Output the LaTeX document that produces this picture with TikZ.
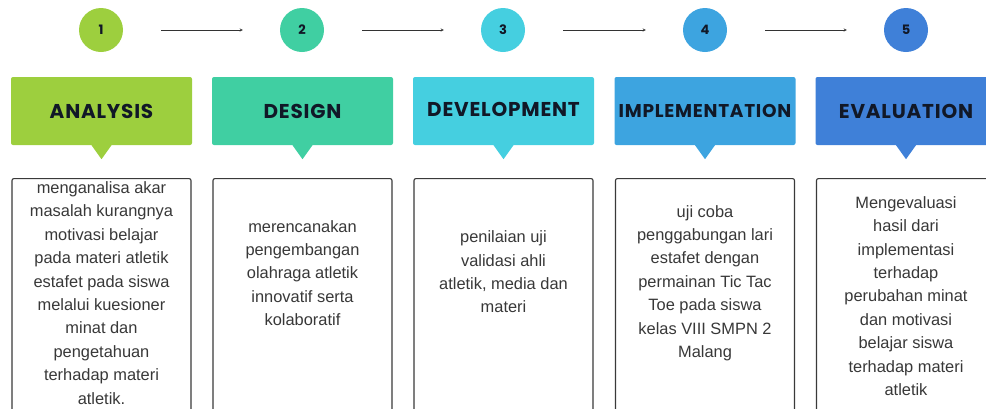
\documentclass[tikz,border=0pt]{standalone}
\usepackage{fontspec}
\setmainfont{Liberation Sans}
\newfontfamily\headfont{Poppins}[LetterSpace=4]
\newfontfamily\numfont{Poppins}
\usepackage{tikz}
\usetikzlibrary{positioning,arrows}

\definecolor{anagreen}{HTML}{9DCF3E}
\definecolor{desteal}{HTML}{40CFA2}
\definecolor{devcyan}{HTML}{45CFE0}
\definecolor{impblue}{HTML}{3DA4E0}
\definecolor{evablue}{HTML}{3F80D8}
\definecolor{inkdark}{HTML}{111827}
\definecolor{boxline}{HTML}{3A3A3A}

\begin{document}
\begin{tikzpicture}[x=1pt,y=-1pt,
	numcirc/.style={circle,minimum size=44pt,inner sep=0pt,font=\numfont\bfseries\fontsize{13}{13}\selectfont,text=inkdark},
	headbox/.style={rectangle,rounded corners=2pt,minimum width=181pt,minimum height=68pt,inner sep=0pt,font=\headfont\bfseries\fontsize{20}{20}\selectfont,text=inkdark},
	descbox/.style={rectangle,draw=boxline,line width=1.1pt,rounded corners=2pt,fill=white,minimum width=179pt,minimum height=260pt,anchor=north},
	desctext/.style={align=center,text=black!78,font=\fontsize{16.4}{23.4}\selectfont},
	steparrow/.style={->,>=stealth,thin,draw=black!80,shorten <=38pt,shorten >=37pt}]
	\useasboundingbox (0,0) rectangle (986,408);

	% numbered steps along the top
	\node [numcirc, fill=anagreen] (c1) at (101,30) {1};
	\node [numcirc, fill=desteal] (c2) at (302,30) {2};
	\node [numcirc, fill=devcyan] (c3) at (503,30) {3};
	\node [numcirc, fill=impblue] (c4) at (705,30) {4};
	\node [numcirc, fill=evablue] (c5) at (906,30) {5};

	\draw[steparrow] (c1) -- (c2);
	\draw[steparrow] (c2) -- (c3);
	\draw[steparrow] (c3) -- (c4);
	\draw[steparrow] (c4) -- (c5);

	% coloured headers with a small pointer underneath
	\node [headbox, fill=anagreen] (h1) at (101.5,111) {ANALYSIS};
	\node [headbox, fill=desteal] (h2) at (302.5,111) {DESIGN};
	\node [headbox, fill=devcyan] (h3) at (503.5,111) {\raisebox{3pt}{DEVELOPMENT}};
	\node [headbox, fill=impblue, font=\headfont\bfseries\fontsize{18.5}{18.5}\selectfont] (h4) at (705,111) {IMPLEMENTATION};
	\node [headbox, fill=evablue] (h5) at (906,111) {EVALUATION};

	\fill[anagreen] ([xshift=-10pt]h1.south) -- ([xshift=10pt]h1.south) -- ([yshift=-14pt]h1.south) -- cycle;
	\fill[desteal] ([xshift=-10pt]h2.south) -- ([xshift=10pt]h2.south) -- ([yshift=-14pt]h2.south) -- cycle;
	\fill[devcyan] ([xshift=-10pt]h3.south) -- ([xshift=10pt]h3.south) -- ([yshift=-14pt]h3.south) -- cycle;
	\fill[impblue] ([xshift=-10pt]h4.south) -- ([xshift=10pt]h4.south) -- ([yshift=-14pt]h4.south) -- cycle;
	\fill[evablue] ([xshift=-10pt]h5.south) -- ([xshift=10pt]h5.south) -- ([yshift=-14pt]h5.south) -- cycle;

	% description boxes, running off the bottom
	\node [descbox] (b1) at (101.5,178) {};
	\node [descbox] (b2) at (302.5,178) {};
	\node [descbox] (b3) at (503.5,178) {};
	\node [descbox] (b4) at (705,178) {};
	\node [descbox] (b5) at (906,178) {};

	\node [desctext] (d1) at (101.5,293) {menganalisa akar\\masalah kurangnya\\motivasi belajar\\pada materi atletik\\estafet pada siswa\\melalui kuesioner\\minat dan\\pengetahuan\\terhadap materi\\atletik.};
	\node [desctext] (d2) at (302.5,273) {merencanakan\\pengembangan\\olahraga atletik\\innovatif serta\\kolaboratif};
	\node [desctext] (d3) at (503.5,272) {penilaian uji\\validasi ahli\\atletik, media dan\\materi};
	\node [desctext] (d4) at (705,283) {uji coba\\penggabungan lari\\estafet dengan\\permainan Tic Tac\\Toe pada siswa\\kelas VIII SMPN 2\\Malang};
	\node [desctext] (d5) at (906,296) {Mengevaluasi\\hasil dari\\implementasi\\terhadap\\perubahan minat\\dan motivasi\\belajar siswa\\terhadap materi\\atletik};
\end{tikzpicture}
\end{document}
